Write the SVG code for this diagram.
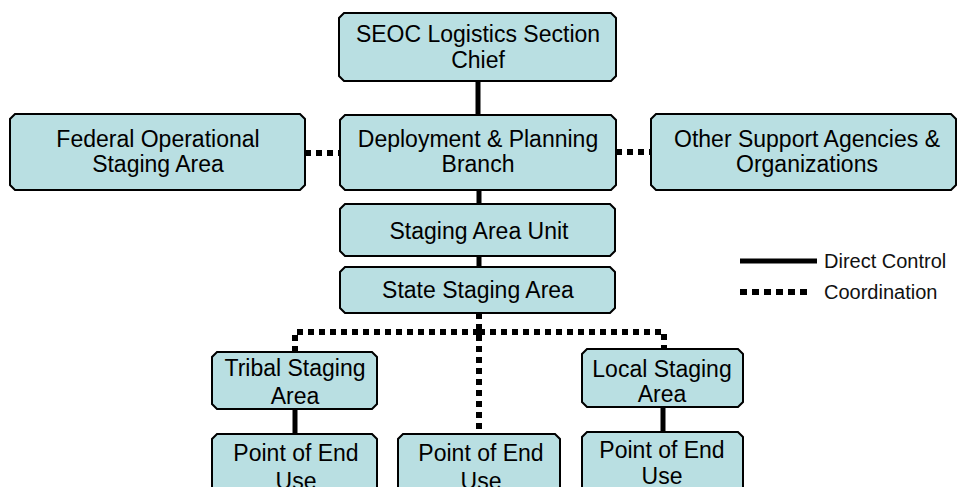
<svg xmlns="http://www.w3.org/2000/svg" width="957" height="487" viewBox="0 0 957 487">
<style>
.box{fill:#b9dfe2;stroke:#000;stroke-width:2;stroke-linejoin:miter}
.t{font-family:"Liberation Sans",Arial,sans-serif;font-size:23px;fill:#000;text-anchor:middle}
.lg{font-family:"Liberation Sans",Arial,sans-serif;font-size:20px;fill:#111}
.solid{fill:none;stroke:#000;stroke-width:5}
.dot{fill:none;stroke:#000;stroke-width:6;stroke-dasharray:6 5}
</style>
<rect width="957" height="487" fill="#fff"/>
<g id="connectors">
<path class="solid" d="M478,81 V115"/>
<path class="solid" d="M479,190 V204"/>
<path class="solid" d="M479,256 V267"/>
<path class="solid" d="M295,409 V434"/>
<path class="solid" d="M663,407 V432"/>
<path class="dot" d="M305,153 H340"/>
<path class="dot" d="M616,152 H651"/>
<path class="dot" d="M479,313 V434"/>
<path class="dot" d="M479,332 H295 V352"/>
<path class="dot" d="M479,332 H664 V349"/>
</g>
<g id="seoc">
<path class="box" d="M344,13 H611 L616,18 V76 L611,81 H344 L339,76 V18 Z"/>
<text class="t" x="478" y="42">SEOC Logistics Section</text>
<text class="t" x="478" y="68">Chief</text>
</g>
<g id="federal">
<path class="box" d="M15,114 H300 L305,119 V185 L300,190 H15 L10,185 V119 Z"/>
<text class="t" x="158" y="147">Federal Operational</text>
<text class="t" x="158" y="172">Staging Area</text>
</g>
<g id="deployment">
<path class="box" d="M345,115 H611 L616,120 V185 L611,190 H345 L340,185 V120 Z"/>
<text class="t" x="478" y="147">Deployment &amp; Planning</text>
<text class="t" x="478" y="172">Branch</text>
</g>
<g id="other">
<path class="box" d="M656,114 H951 L956,119 V185 L951,190 H656 L651,185 V119 Z"/>
<text class="t" x="807" y="147">Other Support Agencies &amp;</text>
<text class="t" x="807" y="172">Organizations</text>
</g>
<g id="sau">
<path class="box" d="M345,204 H610 L615,209 V251 L610,256 H345 L340,251 V209 Z"/>
<text class="t" x="479" y="239">Staging Area Unit</text>
</g>
<g id="state">
<path class="box" d="M345,267 H610 L615,272 V308 L610,313 H345 L340,308 V272 Z"/>
<text class="t" x="478" y="298">State Staging Area</text>
</g>
<g id="tribal">
<path class="box" d="M217,352 H372 L377,357 V404 L372,409 H217 L212,404 V357 Z"/>
<text class="t" x="295" y="376">Tribal Staging</text>
<text class="t" x="295" y="404">Area</text>
</g>
<g id="local">
<path class="box" d="M587,349 H738 L743,354 V402 L738,407 H587 L582,402 V354 Z"/>
<text class="t" x="662" y="377">Local Staging</text>
<text class="t" x="662" y="402">Area</text>
</g>
<g id="point-left">
<path class="box" d="M217,434 H372 L377,439 V490 L372,495 H217 L212,490 V439 Z"/>
<text class="t" x="296" y="461">Point of End</text>
<text class="t" x="296" y="489">Use</text>
</g>
<g id="point-middle">
<path class="box" d="M403,434 H555 L560,439 V490 L555,495 H403 L398,490 V439 Z"/>
<text class="t" x="481" y="461">Point of End</text>
<text class="t" x="481" y="489">Use</text>
</g>
<g id="point-right">
<path class="box" d="M587,432 H738 L743,437 V490 L738,495 H587 L582,490 V437 Z"/>
<text class="t" x="662" y="458">Point of End</text>
<text class="t" x="662" y="484">Use</text>
</g>
<g id="legend">
<path class="solid" d="M740,261 H817"/>
<path class="dot" d="M740,292 H811" style="stroke-dasharray:7 5"/>
<text class="lg" x="824" y="268">Direct Control</text>
<text class="lg" x="824" y="299">Coordination</text>
</g>
</svg>
